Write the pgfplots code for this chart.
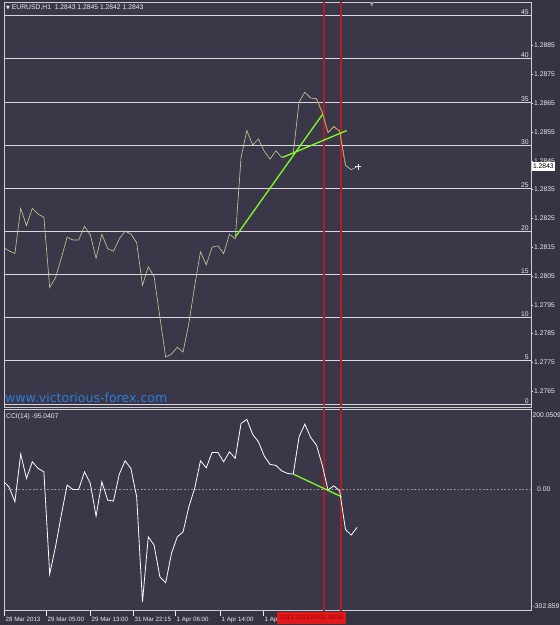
\documentclass[border=0pt]{standalone}
\usepackage{fontspec}
\setmainfont{Liberation Sans}
\newfontfamily\dv{DejaVu Sans}
\usepackage{pgfplots}
\pgfplotsset{compat=1.18}
\definecolor{outerbg}{RGB}{54,52,66}
\definecolor{plotbg}{RGB}{58,56,72}
\definecolor{framec}{RGB}{205,205,210}
\definecolor{levc}{RGB}{215,215,220}
\definecolor{lblc}{RGB}{235,235,240}
\definecolor{pricec}{RGB}{195,208,150}
\definecolor{orangec}{RGB}{220,150,80}
\definecolor{tlgreen}{RGB}{130,250,40}
\definecolor{redl}{RGB}{175,30,40}
\definecolor{redbox}{RGB}{225,25,25}
\definecolor{dotc}{RGB}{150,150,160}
\definecolor{wmblue}{RGB}{45,125,215}
\newcommand\lbfont{\fontsize{6.8}{7.5}\selectfont}
\newcommand\xlfont{\fontsize{6.2}{7}\selectfont}

\pgfplotstableread{
i p
0.12 1.28148
1 1.28137
2 1.28128
3 1.28285
4 1.28225
5 1.28285
6 1.28265
7 1.28254
8 1.28010
9 1.28044
10 1.28112
11 1.28185
12 1.28175
13 1.28175
14 1.28223
15 1.28193
16 1.28112
17 1.28195
18 1.28145
19 1.28136
20 1.28179
21 1.28206
22 1.28196
23 1.28166
24 1.28018
25 1.28082
26 1.28048
27 1.27908
28 1.27768
29 1.27779
30 1.27803
31 1.27786
32 1.27886
33 1.28015
34 1.28134
35 1.28089
36 1.28150
37 1.28155
38 1.28128
39 1.28195
40 1.28179
41 1.28462
42 1.28555
43 1.28505
44 1.28526
45 1.28483
46 1.28456
47 1.28485
48 1.28462
49 1.28469
50 1.28476
51 1.28655
52 1.28688
53 1.28668
54 1.28666
55 1.28618
56 1.28548
57 1.28569
58 1.28553
59 1.28435
60 1.28419
61 1.28430
}\pricetab

\pgfplotstableread{
i p
54 1.28666
55 1.28618
56 1.28548
57 1.28569
58 1.28553
59 1.28435
}\orangetab

\pgfplotstableread{
i c
0.12 19.0
1 5.7
2 -31.0
3 88.1
4 27.5
5 68.9
6 52.4
7 43.9
8 -211.5
9 -143.3
10 -64.2
11 10.7
12 0.0
13 0.0
14 43.9
15 15.0
16 -66.7
17 19.0
18 -26.7
19 -29.2
20 38.2
21 71.4
22 52.4
23 -18.5
24 -280.6
25 -118.4
26 -139.1
27 -218.2
28 -233.2
29 -159.8
30 -118.4
31 -105.9
32 -43.4
33 2.5
34 71.4
35 53.9
36 92.4
37 92.4
38 68.9
39 93.9
40 77.4
41 164.8
42 174.8
43 137.3
44 118.9
45 83.1
46 62.4
47 59.9
48 46.4
49 39.9
50 38.2
51 131.3
52 163.0
53 129.8
54 110.6
55 60.7
56 -1.7
57 9.0
58 -3.5
59 -99.9
60 -114.1
61 -95.04
}\ccitab

\begin{document}
\begin{tikzpicture}[x=1bp,y=1bp]
\fill[outerbg] (0,0) rectangle (560,625);

% level lines 0..45
\begin{axis}[at={(4bp,218bp)}, anchor=south west, scale only axis,
  width=527bp, height=405bp,
  xmin=0, xmax=1, ymin=-0.348, ymax=46.58,
  axis background/.style={fill=plotbg},
  axis line style={draw=none}, ticks=none]
\pgfplotsinvokeforeach{0,5,10,15,20,25,30,35,40,45}{
  \addplot[levc, line width=0.8bp] coordinates {(0,#1) (1,#1)};
  \node[anchor=south east, font=\lbfont, text=lblc, inner sep=0.6bp] at (axis cs:0.997,#1) {#1};
}
\end{axis}

% price panel
\begin{axis}[name=main, at={(4bp,218bp)}, anchor=south west, scale only axis,
  width=527bp, height=405bp,
  xmin=0.12, xmax=91, ymin=1.275952, ymax=1.290016,
  axis line style={draw=framec, line width=0.8bp},
  xtick=\empty,
  ytick={1.2765,1.2775,1.2785,1.2795,1.2805,1.2815,1.2825,1.2835,1.2845,1.2855,1.2865,1.2875,1.2885},
  yticklabels={1.2765,1.2775,1.2785,1.2795,1.2805,1.2815,1.2825,1.2835,1.2845,1.2855,1.2865,1.2875,1.2885},
  scaled y ticks=false, ytick pos=right, yticklabel pos=right,
  y tick label style={font=\lbfont, text=lblc, anchor=west, inner sep=1bp},
  tick align=outside, major tick length=2bp,
  tick style={draw=lblc, line width=0.5bp}]
\addplot[redl, line width=1.8bp] coordinates {(55.30,1.275952) (55.30,1.290016)};
\addplot[redl, line width=1.8bp] coordinates {(58.22,1.275952) (58.22,1.290016)};
\addplot[pricec, line width=0.6bp] table[x=i, y=p] {\pricetab};
\addplot[orangec, line width=0.6bp] table[x=i, y=p] {\orangetab};
\addplot[tlgreen, line width=1.3bp] coordinates {(40.1,1.28188) (55.07,1.28612)};
\addplot[tlgreen, line width=1.3bp] coordinates {(48.17,1.28462) (59.2,1.28555)};
\addplot[lblc, only marks, mark=+, mark size=3bp, line width=0.5bp] coordinates {(61.2,1.2843)};
\coordinate (pb) at (axis cs:91,1.2843);
\coordinate (mnw) at (rel axis cs:0,1);
\end{axis}

% CCI panel
\begin{axis}[name=cci, at={(4bp,14.3bp)}, anchor=south west, scale only axis,
  width=527bp, height=201.4bp,
  xmin=0.12, xmax=91, ymin=-302.859, ymax=200.0509,
  axis background/.style={fill=plotbg},
  axis line style={draw=framec, line width=0.8bp},
  xtick={0.12,7.36,14.95,22.36,29.6,37.36,44.78},
  xticklabels={28 Mar 2013,29 Mar 05:00,29 Mar 13:00,31 Mar 22:15,1 Apr 06:00,1 Apr 14:00,1 Ap},
  xtick pos=bottom,
  x tick label style={font=\xlfont, text=lblc, anchor=north west, inner sep=0bp, xshift=1.5bp, yshift=-1.5bp},
  ytick={0}, yticklabels={0.00}, ytick pos=right, yticklabel pos=right,
  y tick label style={font=\lbfont, text=lblc, anchor=west, inner sep=1bp},
  ytick style={draw=none},
  tick align=outside, major tick length=5bp,
  tick style={draw=lblc, line width=0.5bp}]
\addplot[dotc, line width=0.9bp, dash pattern=on 1.8bp off 1.8bp] coordinates {(0.12,0) (91,0)};
\addplot[redl, line width=1.8bp] coordinates {(55.30,-302.859) (55.30,200.0509)};
\addplot[redl, line width=1.8bp] coordinates {(58.22,-302.859) (58.22,200.0509)};
\addplot[white, line width=0.8bp] table[x=i, y=c] {\ccitab};
\addplot[tlgreen, line width=1.3bp] coordinates {(50.12,37.5) (58.34,-18.5)};
\coordinate (cnw) at (rel axis cs:0,1);
\coordinate (cne) at (rel axis cs:1,1);
\coordinate (cse) at (rel axis cs:1,0);
\coordinate (rb) at (axis cs:47.2,-302.859);
\end{axis}

% texts
\node[anchor=north west, font=\lbfont, text=lblc, inner sep=0bp] at ([xshift=2bp,yshift=-3bp]mnw)
  {{\dv\fontsize{5}{6}\selectfont ▼}\ EURUSD,H1\ \ 1.2843 1.2845 1.2842 1.2843};
\node[anchor=west, fill=white, text=black, font=\lbfont, inner sep=0.8bp, minimum height=9bp] at ([xshift=1bp]pb) {1.2843};
\node[anchor=north west, font=\lbfont, text=lblc, inner sep=0bp] at ([xshift=2bp,yshift=-4bp]cnw) {CCI(14) -95.0407};
\node[anchor=north west, font=\lbfont, text=lblc, inner sep=0bp] at ([xshift=1.5bp,yshift=-3bp]cne) {200.0509};
\node[anchor=south west, font=\lbfont, text=lblc, inner sep=0bp] at ([xshift=1.5bp,yshift=1.5bp]cse) {-302.859};
\node[anchor=north west, fill=redbox, text=red!60!black, font=\xlfont, inner sep=0.5bp, minimum width=69bp, minimum height=12bp] at ([yshift=-0.8bp]rb) {2013.2013.04.02 08:00};
\node[anchor=base west, font=\dv\fontsize{12.6}{14}\selectfont, text=wmblue, inner sep=0bp] at (5,222.5) {www.victorious-forex.com};
\node[anchor=north, font=\dv\fontsize{6}{7}\selectfont, text=gray!80, inner sep=0bp] at (372,623) {▼};

\pgfresetboundingbox
\useasboundingbox (0,0) rectangle (560,625);
\end{tikzpicture}
\end{document}
